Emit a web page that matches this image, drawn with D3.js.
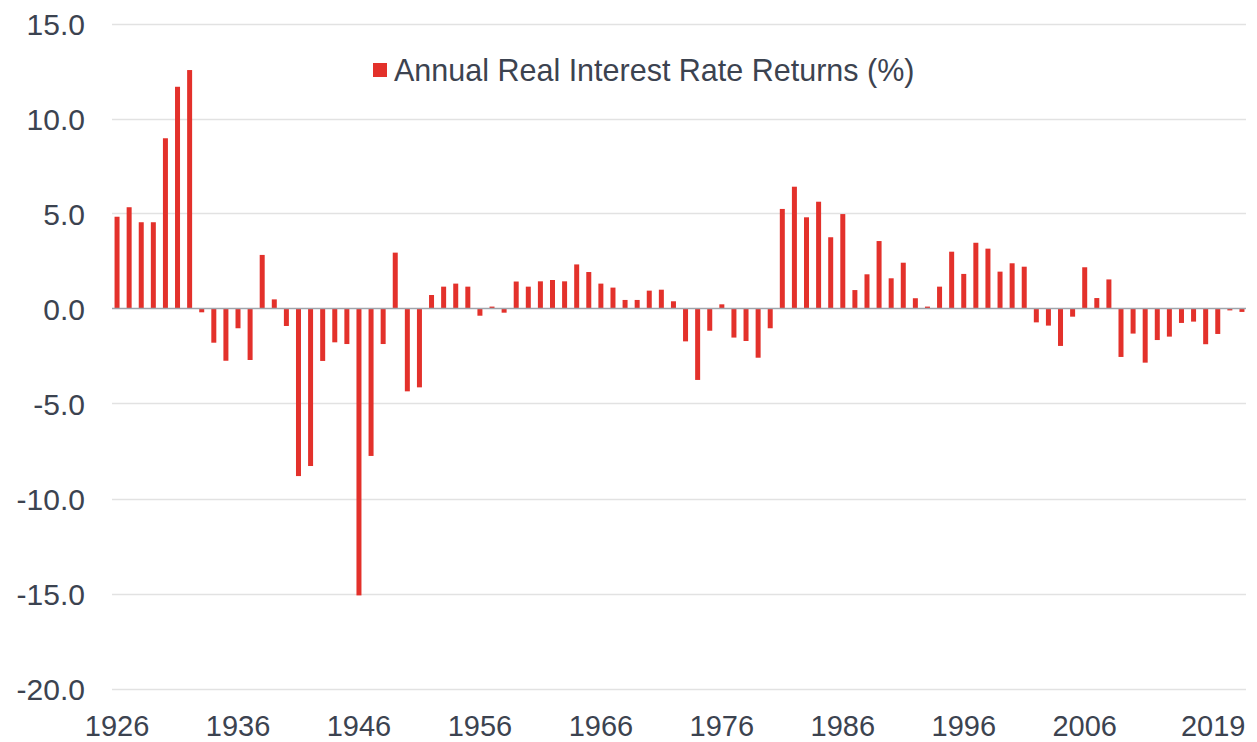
<!DOCTYPE html>
<html>
<head>
<meta charset="utf-8">
<script src="https://cdn.jsdelivr.net/npm/d3@7"></script>
<style>
  body { margin: 0; background: #fff; }
  text { font-family: "Liberation Sans", Arial, sans-serif; fill: #3c4350; }
</style>
</head>
<body>
<svg id="chart" width="1257" height="742"></svg>
<script>
// years 1926..2019
const years = d3.range(1926, 2020);

// annual real interest rate returns (%), one per year
const returns = [
  4.83, 5.33, 4.54, 4.54, 8.96, 11.67, 12.55,             // 1926-1932
  -0.2, -1.8, -2.75, -1.04, -2.71, 2.82, 0.48, -0.92, -8.82, -8.29, // 1933-1942
  -2.76, -1.78, -1.87, -15.1, -7.76, -1.87, 2.94, -4.36, -4.15, 0.71, // 1943-1952
  1.15, 1.31, 1.15, -0.38, 0.1, -0.22, 1.42, 1.15, 1.43, 1.5,        // 1953-1962
  1.43, 2.32, 1.92, 1.31, 1.1, 0.45, 0.45, 0.94, 0.99, 0.38,         // 1963-1972
  -1.73, -3.76, -1.17, 0.22, -1.53, -1.71, -2.59, -1.04, 5.24, 6.41, // 1973-1982
  4.8, 5.62, 3.75, 4.97, 0.97, 1.8, 3.55, 1.59, 2.41, 0.54,          // 1983-1992
  0.1, 1.15, 2.99, 1.82, 3.46, 3.15, 1.94, 2.38, 2.2, -0.73,         // 1993-2002
  -0.9, -1.97, -0.43, 2.17, 0.55, 1.53, -2.55, -1.32, -2.85, -1.66,  // 2003-2012
  -1.48, -0.76, -0.69, -1.88, -1.34, -0.1, -0.18                     // 2013-2019
];

const yTicks = [15, 10, 5, 0, -5, -10, -15, -20];
const xTickYears = [1926, 1936, 1946, 1956, 1966, 1976, 1986, 1996, 2006, 2019];
const seriesName = "Annual Real Interest Rate Returns (%)";

const data = years.map((y, i) => ({ year: y, value: returns[i] }));

const svg = d3.select("#chart");
const red = "#e3312b";

const x = d3.scaleBand()
  .domain(years)
  .range([111, 1248])
  .paddingInner(1 - 5 / 12.1)
  .paddingOuter((1 - 5 / 12.1) / 2);

const y = d3.scaleLinear()
  .domain([-20, 15])
  .range([688.5, 23.5]);

// gridlines
svg.append("g")
  .selectAll("line")
  .data(yTicks.filter(d => d !== 0))
  .enter()
  .append("line")
  .attr("x1", 112)
  .attr("x2", 1246)
  .attr("y1", d => Math.round(y(d)) + 0.5)
  .attr("y2", d => Math.round(y(d)) + 0.5)
  .attr("stroke", "#e2e2e2")
  .attr("stroke-width", 1.5);

// y labels (plain hyphen for negatives, like the original)
const yAxis = d3.axisLeft(y).tickValues(yTicks).tickFormat(d => d.toFixed(1)).tickSize(0).tickPadding(0);
const gy = svg.append("g").attr("transform", "translate(85,0)").call(yAxis);
gy.select(".domain").remove();
gy.selectAll("text")
  .style("font-size", "30px")
  .attr("dy", "0.36em")
  .attr("fill", "#3c4350");

// bars
svg.append("g")
  .selectAll("rect")
  .data(data)
  .enter()
  .append("rect")
  .attr("x", d => x(d.year))
  .attr("width", x.bandwidth())
  .attr("y", d => y(Math.max(0, d.value)))
  .attr("height", d => Math.abs(y(d.value) - y(0)))
  .attr("fill", red);

// zero line
svg.append("line")
  .attr("x1", 112)
  .attr("x2", 1246)
  .attr("y1", y(0))
  .attr("y2", y(0))
  .attr("stroke", "#9ea4ab")
  .attr("stroke-width", 1.5);

// x labels
const xAxis = d3.axisBottom(x).tickValues(xTickYears).tickSize(0).tickPadding(0);
const gx = svg.append("g").attr("transform", "translate(0,710)").call(xAxis);
gx.select(".domain").remove();
gx.selectAll("text")
  .style("font-size", "29px")
  .attr("dy", "0.88em")
  .attr("fill", "#3c4350")
  .attr("text-anchor", d => d === 2019 ? "end" : "middle")
  .attr("x", d => d === 2019 ? x.bandwidth() / 2 + 1 : 0);

// legend
const legend = svg.append("g").attr("transform", "translate(373,63)");
legend.append("rect").attr("width", 14).attr("height", 14).attr("fill", red);
legend.append("text")
  .attr("x", 21)
  .attr("y", 18)
  .style("font-size", "30.5px")
  .text(seriesName);
</script>
</body>
</html>
